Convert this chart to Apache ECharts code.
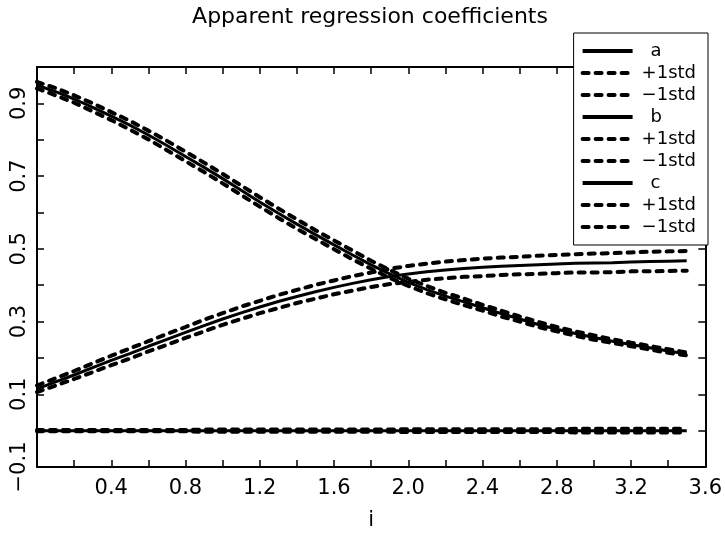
<!DOCTYPE html>
<html>
<head>
<meta charset="utf-8">
<script src="https://cdn.jsdelivr.net/npm/echarts@6/dist/echarts.min.js"></script>
<style>
html,body{margin:0;padding:0;background:#fff;}
#chart{width:725px;height:536px;}
</style>
</head>
<body>
<div id="chart"></div>
<script>
// ---- data ----
const xs = [0.0,0.1,0.2,0.3,0.4,0.5,0.6,0.7,0.8,0.9,1.0,1.1,1.2,1.3,1.4,1.5,1.6,1.7,1.8,1.9,2.0,2.1,2.2,2.3,2.4,2.5,2.6,2.7,2.8,2.9,3.0,3.1,3.2,3.3,3.4,3.5];

const aVals = [0.950,0.932,0.912,0.889,0.865,0.840,0.813,0.784,0.754,0.724,0.693,0.661,0.629,0.598,0.568,0.539,0.511,0.483,0.456,0.431,0.408,0.388,0.370,0.354,0.338,0.322,0.307,0.292,0.279,0.267,0.256,0.246,0.237,0.228,0.219,0.211];
const aPlus = [0.959,0.942,0.922,0.900,0.876,0.852,0.825,0.797,0.767,0.737,0.706,0.674,0.642,0.611,0.581,0.551,0.523,0.495,0.467,0.442,0.418,0.398,0.379,0.363,0.346,0.330,0.314,0.299,0.285,0.273,0.262,0.251,0.242,0.233,0.224,0.215];
const aMinus = [0.941,0.922,0.902,0.878,0.854,0.828,0.801,0.771,0.741,0.711,0.680,0.648,0.616,0.585,0.555,0.527,0.499,0.471,0.445,0.420,0.398,0.378,0.361,0.345,0.330,0.314,0.300,0.285,0.273,0.261,0.250,0.241,0.232,0.223,0.214,0.207];

const bVals = [0.115,0.134,0.153,0.173,0.193,0.212,0.232,0.251,0.270,0.289,0.307,0.324,0.340,0.355,0.369,0.382,0.394,0.405,0.415,0.424,0.431,0.437,0.442,0.446,0.449,0.452,0.454,0.456,0.458,0.460,0.461,0.462,0.464,0.465,0.466,0.467];
const bPlus = [0.124,0.144,0.164,0.185,0.206,0.226,0.246,0.266,0.285,0.305,0.323,0.341,0.357,0.373,0.387,0.401,0.413,0.425,0.435,0.445,0.453,0.459,0.465,0.469,0.473,0.476,0.478,0.481,0.483,0.485,0.487,0.488,0.490,0.492,0.493,0.494];
const bMinus = [0.106,0.124,0.142,0.161,0.180,0.198,0.218,0.236,0.255,0.273,0.291,0.307,0.323,0.337,0.351,0.363,0.375,0.385,0.395,0.403,0.409,0.415,0.419,0.423,0.425,0.428,0.430,0.431,0.433,0.435,0.435,0.436,0.438,0.438,0.439,0.440];

const cVals = [0.000,0.000,0.000,0.000,0.000,0.000,0.000,0.000,0.000,0.000,0.000,0.000,0.000,0.000,0.000,0.000,0.000,0.000,0.000,0.000,0.000,0.000,0.000,0.000,0.000,0.000,0.000,0.000,0.000,0.000,0.000,0.000,0.000,0.000,0.000,0.000];
const cPlus = [0.002,0.002,0.002,0.002,0.002,0.002,0.002,0.002,0.002,0.003,0.003,0.003,0.003,0.003,0.003,0.003,0.003,0.003,0.003,0.003,0.004,0.004,0.004,0.004,0.004,0.004,0.004,0.004,0.004,0.005,0.005,0.005,0.005,0.005,0.005,0.005];
const cMinus = [-0.002,-0.002,-0.002,-0.002,-0.002,-0.002,-0.002,-0.002,-0.002,-0.003,-0.003,-0.003,-0.003,-0.003,-0.003,-0.003,-0.003,-0.003,-0.003,-0.003,-0.004,-0.004,-0.004,-0.004,-0.004,-0.004,-0.004,-0.004,-0.004,-0.005,-0.005,-0.005,-0.005,-0.005,-0.005,-0.005];

const xTickValues = [0.4,0.8,1.2,1.6,2.0,2.4,2.8,3.2,3.6];
const xTickLabels = ['0.4','0.8','1.2','1.6','2.0','2.4','2.8','3.2','3.6'];
const yTickValues = [-0.1,0.1,0.3,0.5,0.7,0.9];
const yTickLabels = ['\u22120.1','0.1','0.3','0.5','0.7','0.9'];

const seriesNames = ['a','a +1std','a \u22121std','b','b +1std','b \u22121std','c','c +1std','c \u22121std'];
const seriesValues = [aVals,aPlus,aMinus,bVals,bPlus,bMinus,cVals,cPlus,cMinus];
// -----------------------------------------------

const FONT = 'DejaVu Sans';
const chart = echarts.init(document.getElementById('chart'), null, {renderer:'canvas'});

function pickLabel(vals, labels, v){
  const i = vals.findIndex(t => Math.abs(t - v) < 1e-6);
  return i >= 0 ? labels[i] : '';
}

const solidStyle = {color:'#000', width:3, type:'solid'};
const dashStyle = {color:'#000', width:4, type:[6,7], cap:'round'};

const series = seriesNames.map((name, k) => ({
  name: name,
  type: 'line',
  xAxisIndex: 0,
  yAxisIndex: 0,
  symbol: 'none',
  symbolSize: 0,
  showSymbol: false,
  smooth: false,
  silent: true,
  lineStyle: (k % 3 === 0) ? solidStyle : dashStyle,
  itemStyle: {color:'#000'},
  data: xs.map((x, i) => [x, seriesValues[k][i]])
}));

const tickCommon = {show:true, inside:true, length:7, lineStyle:{color:'#000', width:1.5}};
const lineCommon = {show:true, onZero:false, lineStyle:{color:'#000', width:2}};

chart.setOption({
  animation: false,
  backgroundColor: '#fff',
  title: {
    text: 'Apparent regression coefficients',
    left: 370,
    textAlign: 'center',
    top: 1,
    padding: [5, 0, 5, 0],
    textStyle: {fontFamily: FONT, fontSize: 22, fontWeight: 'normal', color: '#000'}
  },
  legend: {
    orient: 'vertical',
    right: 17,
    top: 33,
    padding: [9, 12, 9, 7],
    itemGap: 4,
    itemWidth: 50,
    itemHeight: 14,
    backgroundColor: '#fff',
    borderColor: '#000',
    borderWidth: 1,
    itemStyle: {opacity: 0, color: 'rgba(0,0,0,0)', borderWidth: 0},
    lineStyle: {width: 4, color: '#000'},
    data: seriesNames,
    formatter: function(name){
      const s = name.replace(/^[abc] /, '');
      return (s === name) ? '\u2002' + s : s;
    },
    textStyle: {fontFamily: FONT, fontSize: 18, lineHeight: 18, color: '#000', padding: [0,0,0,4]}
  },
  grid: {left: 37, right: 19, top: 67, bottom: 68, show: false},
  xAxis: [{
    type: 'value', position: 'bottom', min: 0, max: 3.6, interval: 0.2,
    axisLine: lineCommon, axisTick: tickCommon, splitLine: {show:false},
    axisLabel: {
      show: true, margin: 11, color: '#000', fontFamily: FONT, fontSize: 21,
      formatter: v => pickLabel(xTickValues, xTickLabels, v)
    },
    name: 'i', nameLocation: 'middle', nameGap: 43,
    nameTextStyle: {fontFamily: FONT, fontSize: 21, color: '#000'}
  }, {
    type: 'value', position: 'top', min: 0, max: 3.6, interval: 0.2,
    axisLine: lineCommon, axisTick: tickCommon, splitLine: {show:false},
    axisLabel: {show: false}
  }],
  yAxis: [{
    type: 'value', position: 'left', min: -0.1, max: 1.0, interval: 0.1,
    axisLine: lineCommon, axisTick: tickCommon, splitLine: {show:false},
    axisLabel: {
      show: true, rotate: 90, margin: 7, color: '#000', fontFamily: FONT, fontSize: 21,
      formatter: v => pickLabel(yTickValues, yTickLabels, v)
    }
  }, {
    type: 'value', position: 'right', min: -0.1, max: 1.0, interval: 0.1,
    axisLine: lineCommon, axisTick: tickCommon, splitLine: {show:false},
    axisLabel: {show: false}
  }],
  series: series
});
</script>
</body>
</html>
